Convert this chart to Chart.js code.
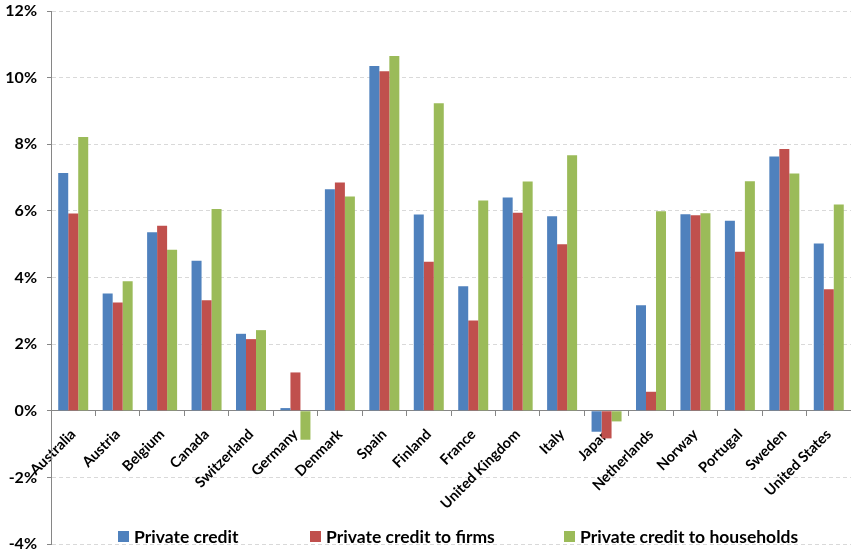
<!doctype html>
<html lang="en">
  <head>
    <meta charset="utf-8">
    <title>Private credit growth</title>
    <script src="https://cdn.jsdelivr.net/npm/chart.js@4/dist/chart.umd.min.js"></script>
    <style>
      html, body { margin: 0; padding: 0; background: #fff; }
      #wrap { width: 851px; height: 552px; }
    </style>
  </head>
  <body>
    <div id="wrap">
      <canvas id="creditChart" width="851" height="552"></canvas>
    </div>

    <script>
    // average annual growth, in percent
    var countries = ['Australia', 'Austria', 'Belgium', 'Canada', 'Switzerland', 'Germany', 'Denmark', 'Spain', 'Finland',
                     'France', 'United Kingdom', 'Italy', 'Japan', 'Netherlands', 'Norway', 'Portugal', 'Sweden', 'United States'];
    var privateCredit    = [7.14, 3.52, 5.36, 4.50, 2.31, 0.08, 6.65, 10.35, 5.89, 3.74, 6.40, 5.84, -0.63, 3.17, 5.90, 5.70, 7.63, 5.02];
    var creditFirms      = [5.92, 3.25, 5.55, 3.32, 2.15, 1.15, 6.85, 10.19, 4.47, 2.71, 5.94, 5.00, -0.83, 0.57, 5.87, 4.77, 7.86, 3.65];
    var creditHouseholds = [8.22, 3.89, 4.83, 6.06, 2.42, -0.87, 6.43, 10.65, 9.23, 6.31, 6.88, 7.67, -0.32, 5.99, 5.93, 6.89, 7.12, 6.19];
    var seriesNames = ['Private credit', 'Private credit to firms', 'Private credit to households'];
    var yMin = -4, yMax = 12, yStep = 2;

    // legend sits inside the plot, just above the bottom gridline
    var keyPlugin = {
      id: 'bottomKey',
      afterDraw: function (chart) {
        var ctx = chart.ctx;
        var xs = [118, 310, 564];
        var y = 537;
        ctx.save();
        ctx.font = 'bold 17.5px Lato';
        ctx.textBaseline = 'middle';
        ctx.textAlign = 'left';
        chart.data.datasets.forEach(function (ds, i) {
          ctx.fillStyle = ds.backgroundColor;
          ctx.fillRect(xs[i], y - 6, 11, 11);
          ctx.fillStyle = '#000';
          ctx.fillText(ds.label, xs[i] + 16, y);
        });
        ctx.restore();
      }
    };

    // keep tick labels from pushing the plot edges inwards
    function noOverhang(scale) {
      scale.paddingTop = 0;
      scale.paddingBottom = 0;
      scale.paddingLeft = 0;
      scale.paddingRight = 0;
    }

    var axisGrey = '#868686';
    var ctx = document.getElementById('creditChart');
    var myChart = new Chart(ctx, {
      type: 'bar',
      data: {
        labels: countries,
        datasets: [
          { label: seriesNames[0], data: privateCredit, backgroundColor: '#4F81BD' },
          { label: seriesNames[1], data: creditFirms, backgroundColor: '#C0504D' },
          { label: seriesNames[2], data: creditHouseholds, backgroundColor: '#9BBB59' }
        ]
      },
      options: {
        responsive: false,
        animation: false,
        layout: { padding: { top: 11, right: 0, bottom: 8, left: 0 } },
        datasets: {
          bar: { categoryPercentage: 0.675, barPercentage: 1, borderWidth: 0 }
        },
        plugins: {
          legend: { display: false },
          tooltip: { enabled: false }
        },
        scales: {
          x: {
            position: { y: 0 },
            z: 1, // country names go over the negative bars
            offset: true,
            grid: { drawOnChartArea: false, drawTicks: true, tickLength: 5, color: axisGrey, offset: true },
            border: { display: true, color: axisGrey, width: 1 },
            ticks: {
              autoSkip: false,
              minRotation: 45,
              maxRotation: 45,
              padding: 10,
              color: '#000',
              font: { family: 'Lato', size: 14.5, weight: 'bold' }
            },
            afterFit: noOverhang
          },
          y: {
            min: yMin,
            max: yMax,
            grid: {
              color: '#D9D9D9',
              tickColor: axisGrey,
              tickLength: 4,
              drawTicks: true
            },
            border: { display: true, color: axisGrey, width: 1, dash: [4, 3] },
            ticks: {
              stepSize: yStep,
              padding: 10,
              color: '#000',
              font: { family: 'Lato', size: 16, weight: 'bold' },
              callback: function (v) { return v + '%'; }
            },
            afterFit: function (scale) {
              noOverhang(scale);
              scale.width = 51;
            }
          }
        }
      },
      plugins: [keyPlugin]
    });
    </script>
  </body>
</html>
